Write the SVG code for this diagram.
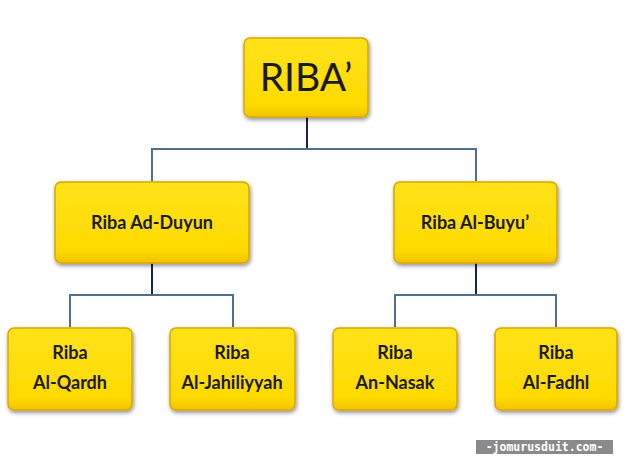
<svg xmlns="http://www.w3.org/2000/svg" width="628" height="471" viewBox="0 0 628 471">
  <defs>
    <linearGradient id="yg" x1="0" y1="0" x2="0" y2="1">
      <stop offset="0" stop-color="#FFE21A"/>
      <stop offset="0.85" stop-color="#FFDA00"/>
      <stop offset="1" stop-color="#F2C200"/>
    </linearGradient>
    <filter id="sh" x="-10%" y="-10%" width="125%" height="130%">
      <feGaussianBlur in="SourceAlpha" stdDeviation="2"/>
      <feOffset dx="1" dy="2" result="b"/>
      <feComponentTransfer><feFuncA type="linear" slope="0.45"/></feComponentTransfer>
      <feMerge><feMergeNode/><feMergeNode in="SourceGraphic"/></feMerge>
    </filter>
  </defs>
  <style>
    .box { fill: url(#yg); stroke: #D9A800; stroke-width: 1.5; filter: url(#sh); }
    .lbl { font-family: Lato, "Open Sans", "Liberation Sans", sans-serif; font-weight: bold; font-size: 18px; fill: #1a1a1a; text-anchor: middle; }
    .root { font-family: Lato, "Open Sans", "Liberation Sans", sans-serif; font-size: 39px; fill: #1a1a1a; text-anchor: middle; }
    .stem { stroke: #14264a; stroke-width: 2; fill: none; }
    .br { stroke: #4F6F8F; stroke-width: 2; fill: none; }
  </style>
  <rect width="628" height="471" fill="#ffffff"/>
  <g id="connectors">
    <line class="stem" x1="307" y1="117" x2="307" y2="149"/>
    <polyline class="br" points="152,181 152,149 476,149 476,181"/>
    <line class="stem" x1="152" y1="263" x2="152" y2="295"/>
    <polyline class="br" points="70,327 70,295 233,295 233,327"/>
    <line class="stem" x1="476" y1="263" x2="476" y2="295"/>
    <polyline class="br" points="395,327 395,295 556,295 556,327"/>
  </g>
  <g id="root">
    <rect class="box" x="244" y="38" width="124" height="79" rx="6"/>
    <text class="root" x="306" y="91">RIBA’</text>
  </g>
  <g id="duyun">
    <rect class="box" x="55" y="182" width="194" height="81" rx="6"/>
    <text class="lbl" x="152" y="229">Riba Ad-Duyun</text>
  </g>
  <g id="buyu">
    <rect class="box" x="394" y="182" width="163" height="81" rx="6"/>
    <text class="lbl" x="475" y="229">Riba Al-Buyu’</text>
  </g>
  <g id="qardh">
    <rect class="box" x="8" y="328" width="124" height="82" rx="6"/>
    <text class="lbl" x="70" y="359">Riba</text>
    <text class="lbl" x="70" y="389">Al-Qardh</text>
  </g>
  <g id="jahiliyyah">
    <rect class="box" x="170" y="328" width="125" height="82" rx="6"/>
    <text class="lbl" x="232" y="359">Riba</text>
    <text class="lbl" x="232" y="389">Al-Jahiliyyah</text>
  </g>
  <g id="nasak">
    <rect class="box" x="333" y="328" width="124" height="82" rx="6"/>
    <text class="lbl" x="395" y="359">Riba</text>
    <text class="lbl" x="395" y="389">An-Nasak</text>
  </g>
  <g id="fadhl">
    <rect class="box" x="495" y="328" width="122" height="82" rx="6"/>
    <text class="lbl" x="556" y="359">Riba</text>
    <text class="lbl" x="556" y="389">Al-Fadhl</text>
  </g>
  <g id="watermark">
    <rect x="476" y="440" width="137" height="14" fill="#8a8a8a"/>
    <text x="544.5" y="451" font-family="'DejaVu Sans Mono', 'Liberation Mono', monospace" font-weight="bold" font-size="11.5" fill="#ffffff" text-anchor="middle">-jomurusduit.com-</text>
  </g>
</svg>
